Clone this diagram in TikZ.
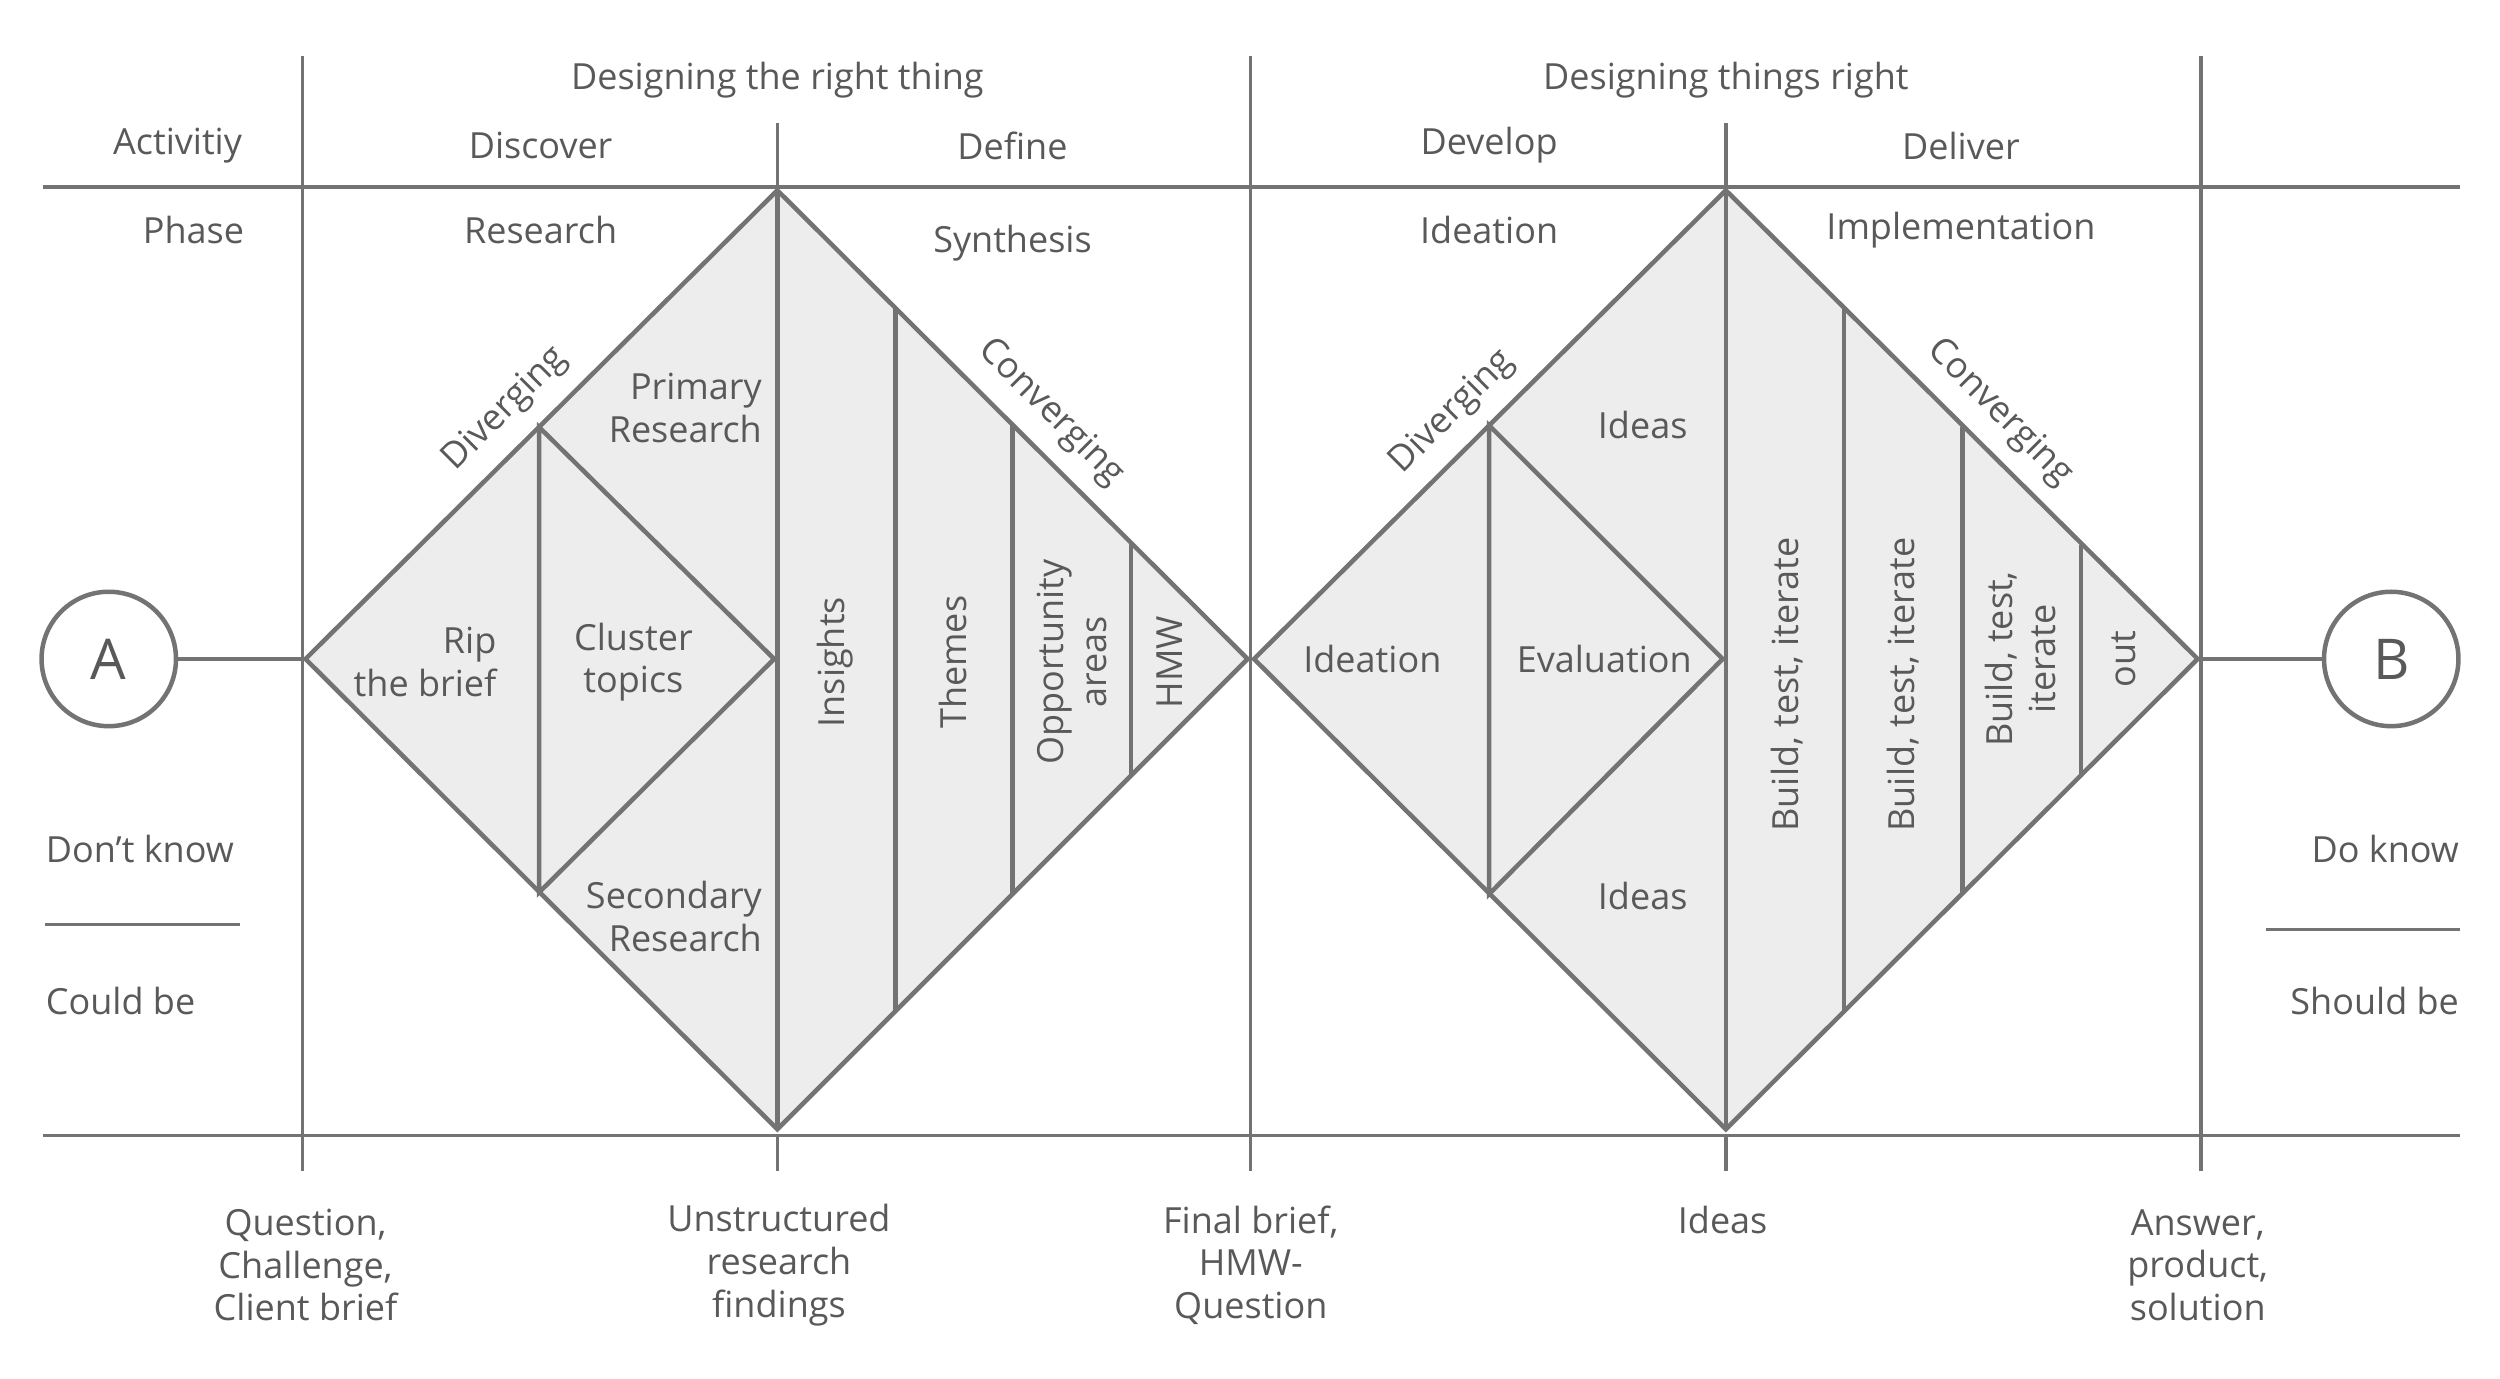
\documentclass[tikz,border=0pt]{standalone}
\usepackage{fontspec}
\setmainfont{Open Sans}
\begin{document}
\begin{tikzpicture}[x=0.01cm,y=-0.01cm,
  ln/.style={draw=black!55,line width=0.6pt},
  dm/.style={draw=black!55,line width=0.8pt,fill=black!7},
  tx/.style={text=black!65,font=\fontsize{6.4}{7.6}\selectfont,align=center,inner sep=0pt},
  txr/.style={tx,align=right},
  big/.style={text=black!65,font=\fontsize{10}{12}\selectfont}]
\useasboundingbox (0,0) rectangle (1563,862);
% grid lines
\draw[ln] (27,117) -- (1538,117);
\draw[ln] (27,710) -- (1538,710);
\foreach \x in {189,782,1376} \draw[ln] (\x,35) -- (\x,732);
\foreach \x in {486,1079} {\draw[ln] (\x,77) -- (\x,117); \draw[ln] (\x,710) -- (\x,732);}
% diamond 1
\coordinate (d1l) at (191,412); \coordinate (d1t) at (486,119);
\coordinate (d1r) at (780,412); \coordinate (d1b) at (486,706);
\coordinate (d1c) at (484,412);
\draw[dm] (d1l) -- (d1t) -- (d1r) -- (d1b) -- cycle;
\draw[ln,line width=0.8pt] (337,267) -- (337,558) -- (d1c) -- cycle;
\draw[ln,line width=0.8pt] (d1t) -- (d1b);
\draw[ln,line width=0.8pt] (560,193) -- (560,632);
\draw[ln,line width=0.8pt] (633,266) -- (633,559);
\draw[ln,line width=0.8pt] (707,340) -- (707,486);
% diamond 2
\coordinate (d2l) at (784,412); \coordinate (d2t) at (1079,119);
\coordinate (d2r) at (1374,412); \coordinate (d2b) at (1079,706);
\coordinate (d2c) at (1077,412);
\draw[dm] (d2l) -- (d2t) -- (d2r) -- (d2b) -- cycle;
\draw[ln,line width=0.8pt] (931,266) -- (931,559) -- (d2c) -- cycle;
\draw[ln,line width=0.8pt] (d2t) -- (d2b);
\draw[ln,line width=0.8pt] (1153,193) -- (1153,632);
\draw[ln,line width=0.8pt] (1227,267) -- (1227,559);
\draw[ln,line width=0.8pt] (1301,341) -- (1301,486);
% circles
\node[draw=black!55,line width=0.8pt,circle,minimum size=0.84cm,big,inner sep=0pt] (A) at (68,412) {A};
\node[draw=black!55,line width=0.8pt,circle,minimum size=0.84cm,big,inner sep=0pt] (B) at (1495,412) {B};
\coordinate (Ae) at (189,412); \coordinate (Be) at (1376,412);
\draw[ln] (A) -- (Ae);
\draw[ln] (B) -- (Be);
% header texts
\node[tx] (h1) at (486,50) {Designing the right thing};
\node[tx] (h2) at (1079,50) {Designing things right};
\node[tx] at (111,91) {Activitiy};
\node[tx] at (338,91) {Discover};
\node[tx] at (633,91) {Define};
\node[tx] at (931,91) {Develop};
\node[tx] at (1226,91) {Deliver};
\node[tx] at (121,144) {Phase};
\node[tx] at (338,144) {Research};
\node[tx] at (633,152) {Synthesis};
\node[tx] at (931,144) {Ideation};
\node[tx] at (1226,144) {Implementation};
% diamond 1 texts
\node[tx,rotate=45] at (316,256) {Diverging};
\node[tx,rotate=-45] at (657,258) {Converging};
\node[txr,anchor=east] at (477,255) {Primary\\Research};
\node[txr,anchor=east] at (311,414) {Rip\\the brief};
\node[tx] at (396,414) {Cluster\\topics};
\node[txr,anchor=east] at (477,573) {Secondary\\Research};
\node[tx,rotate=90] at (522,414) {Insights};
\node[tx,rotate=90] at (596,414) {Themes};
\node[tx,rotate=90] at (670,414) {Opportunity\\areas};
\node[tx,rotate=90] at (731,414) {HMW};
% diamond 2 texts
\node[tx,rotate=45] at (908,258) {Diverging};
\node[tx,rotate=-45] at (1250,258) {Converging};
\node[tx] at (1027,266) {Ideas};
\node[tx] at (858,412) {Ideation};
\node[tx] at (1003,412) {Evaluation};
\node[tx] at (1027,560) {Ideas};
\node[tx,rotate=90] at (1117,428) {Build, test, iterate};
\node[tx,rotate=90] at (1190,428) {Build, test, iterate};
\node[tx,rotate=90] at (1263,412) {Build, test,\\iterate};
\node[tx,rotate=90] at (1328,412) {out};
% side texts
\node[tx,anchor=west] at (28,531) {Don’t know};
\node[tx,anchor=west] at (28,626) {Could be};
\draw[ln] (28,578) -- (150,578);
\node[tx,anchor=east] at (1538,531) {Do know};
\node[tx,anchor=east] at (1538,626) {Should be};
\draw[ln] (1417,581) -- (1538,581);
% bottom texts
\node[tx] at (191,791) {Question,\\Challenge,\\Client brief};
\node[tx] at (487,791) {Unstructured\\research\\findings};
\node[tx] at (782,791) {Final brief,\\HMW-\\Question};
\node[tx] at (1077,763) {Ideas};
\node[tx] at (1374,791) {Answer,\\product,\\solution};
\end{tikzpicture}
\end{document}
